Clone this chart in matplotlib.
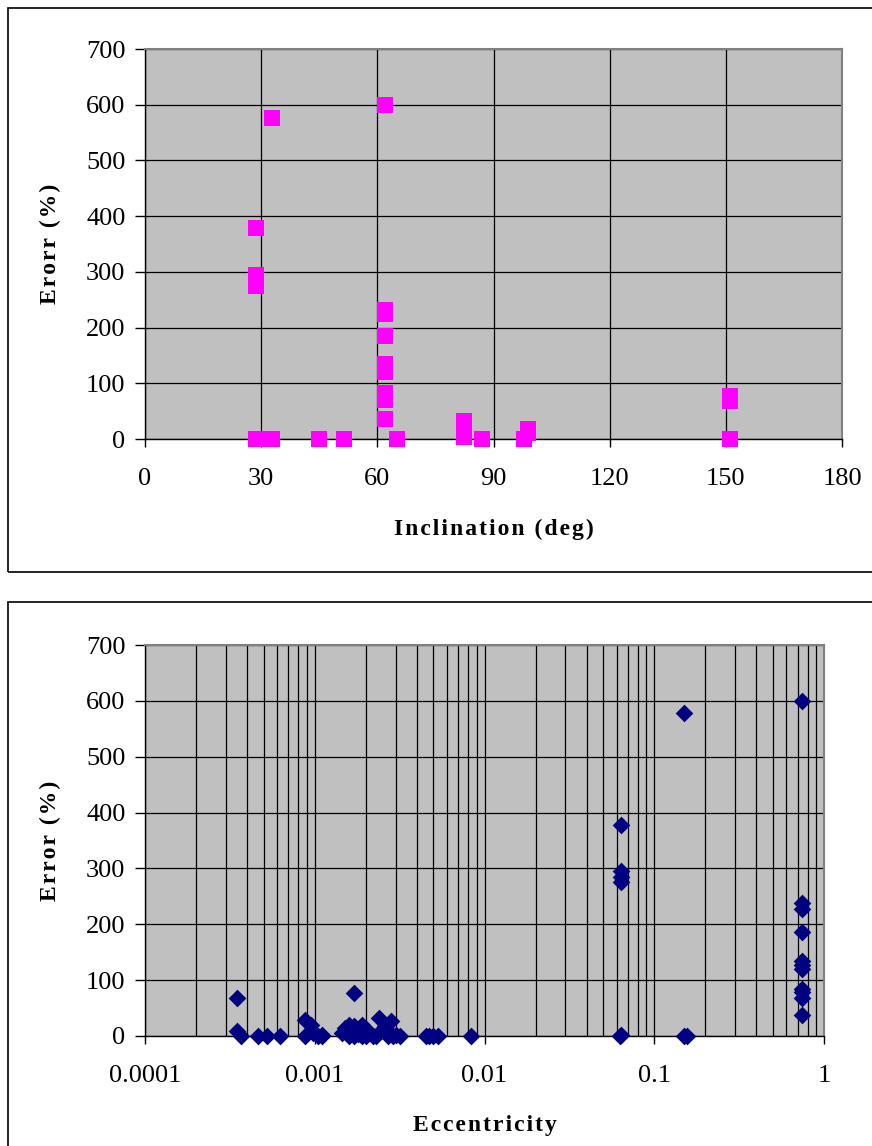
import numpy as np
import matplotlib
matplotlib.use("Agg")
import matplotlib.pyplot as plt
from matplotlib.patches import Rectangle
from matplotlib.ticker import LogLocator, NullFormatter, FixedLocator

plt.rcParams['font.family'] = ['Liberation Serif', 'DejaVu Serif']

# top chart: inclination (deg) vs error (%)
incl = [28.7, 28.7, 28.7, 28.7, 28.7, 32.8, 32.8, 45, 51.5,
        62, 62, 62, 62, 62, 62, 62, 62, 62, 65,
        82.5, 82.5, 82.5, 82.5, 87, 98, 98.8, 99, 151, 151, 151]
incl_err = [379, 295, 285, 275, 0, 577, 0, 0, 0,
            600, 232, 225, 185, 135, 120, 82, 70, 36, 0,
            33, 22, 10, 3, 0, 0, 10, 18, 77, 68, 0]

# bottom chart: eccentricity vs error (%)
ecc = [0.00035, 0.00035, 0.00037, 0.00046, 0.00052, 0.00062,
       0.00088, 0.00095, 0.00088, 0.00098, 0.00105, 0.0011, 0.0011,
       0.00145, 0.0015, 0.0016, 0.0017, 0.0017, 0.0018, 0.0019, 0.002,
       0.0016, 0.0017, 0.0018, 0.0019, 0.002, 0.0021, 0.0022, 0.0023,
       0.0024, 0.0025, 0.0026, 0.0027, 0.0028, 0.0029, 0.003, 0.0032,
       0.0045, 0.0047, 0.005, 0.0053, 0.0083,
       0.063, 0.064, 0.064, 0.064, 0.064, 0.064,
       0.15, 0.15, 0.155,
       0.74, 0.74, 0.74, 0.74, 0.74, 0.74, 0.74, 0.74, 0.74, 0.74, 0.74]
ecc_err = [68, 9, 0, 0, 0, 0,
           28, 20, 0, 5, 0, 0, 2,
           5, 15, 20, 77, 18, 10, 20, 12,
           0, 0, 3, 0, 0, 5, 0, 0,
           33, 10, 18, 0, 27, 0, 2, 0,
           0, 0, 0, 0, 0,
           0, 2, 378, 295, 285, 275,
           578, 0, 0,
           600, 238, 228, 186, 135, 127, 120, 84, 78, 68, 38]

W, H = 872, 1146
fig = plt.figure(figsize=(W / 100, H / 100), dpi=100)

# chart frames
for (x0, y0, x1, y1) in [(8, 8, 880, 572), (8, 602, 880, 1160)]:
    fig.patches.append(Rectangle((x0 / W, 1 - y1 / H), (x1 - x0) / W, (y1 - y0) / H,
                                 transform=fig.transFigure, fill=False,
                                 edgecolor='black', lw=1.2, clip_on=False))


def spaced(s):
    # loose letter spacing like the original bold titles
    return '\u200a'.join(s)


def style_axes(ax):
    ax.set_facecolor('#c0c0c0')
    ax.set_ylim(0, 700)
    ax.set_yticks(range(0, 701, 100))
    ax.grid(True, which='both', color='black', lw=0.9)
    ax.set_axisbelow(True)
    for s in ['top', 'right']:
        ax.spines[s].set_color('#808080')
        ax.spines[s].set_linewidth(1.5)
    for s in ['left', 'bottom']:
        ax.spines[s].set_color('black')
        ax.spines[s].set_linewidth(1.0)
    ax.tick_params(axis='y', direction='out', length=7, width=1, pad=7, labelsize=19)
    ax.tick_params(axis='x', direction='out', length=6, width=1, pad=15, labelsize=19)


# top chart
ax1 = fig.add_axes([145 / W, 1 - 439 / H, (842 - 145) / W, 390 / H])
style_axes(ax1)
ax1.scatter(incl, incl_err, marker='s', s=11 ** 2, color='#ff00ff', lw=0, zorder=3, clip_on=False)
ax1.set_xlim(0, 180)
ax1.set_xticks(range(0, 181, 30))
ax1.set_xlabel(spaced('Inclination (deg)'), fontsize=17, fontweight='bold')
ax1.set_ylabel(spaced('Erorr (%)'), fontsize=17, fontweight='bold')
ax1.xaxis.set_label_coords(0.5, -0.205)
ax1.yaxis.set_label_coords(-0.12, 0.5)

# bottom chart
ax2 = fig.add_axes([145 / W, 1 - 1036 / H, (824 - 145) / W, 391 / H])
style_axes(ax2)
ax2.set_xscale('log')
ax2.set_xlim(0.0001, 1)
ax2.xaxis.set_major_locator(FixedLocator([0.0001, 0.001, 0.01, 0.1, 1]))
ax2.set_xticklabels(['0.0001', '0.001', '0.01', '0.1', '1'])
ax2.xaxis.set_minor_locator(LogLocator(base=10, subs=np.arange(2, 10), numticks=20))
ax2.xaxis.set_minor_formatter(NullFormatter())
ax2.tick_params(axis='x', which='minor', length=0)
ax2.scatter(ecc, ecc_err, marker='D', s=9 ** 2, color='#000080', lw=0, zorder=3, clip_on=False)
ax2.set_xlabel(spaced('Eccentricity'), fontsize=17, fontweight='bold')
ax2.set_ylabel(spaced('Error (%)'), fontsize=17, fontweight='bold')
ax2.xaxis.set_label_coords(0.5, -0.202)
ax2.yaxis.set_label_coords(-0.123, 0.5)

fig.savefig('out.png', dpi=100)
